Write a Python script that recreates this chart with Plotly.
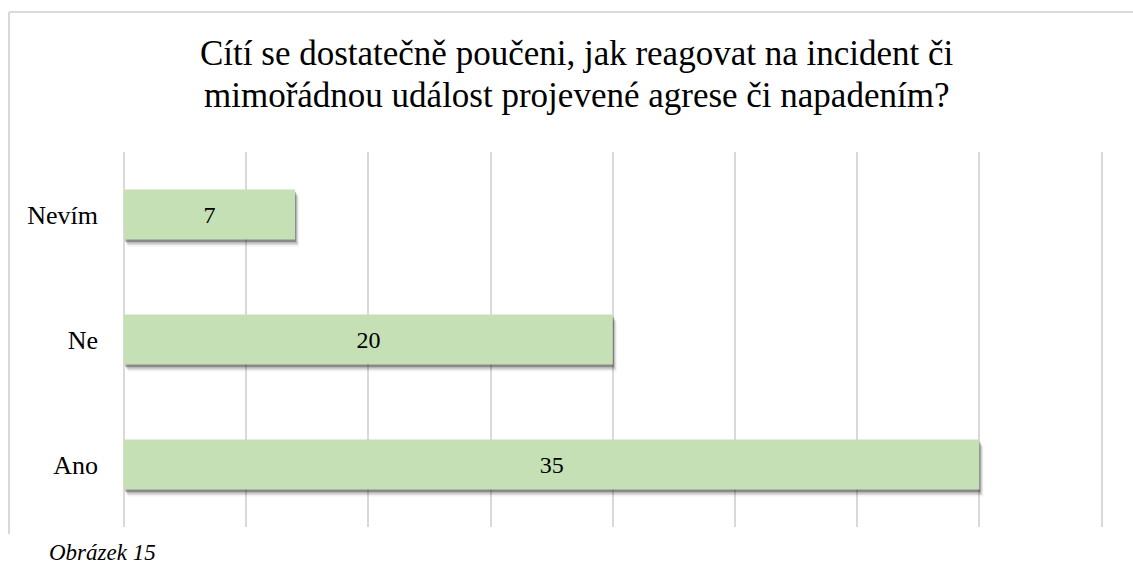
import plotly.graph_objects as go

categories = ["Ano", "Ne", "Nevím"]
values = [35, 20, 7]
title_lines = ["Cítí se dostatečně poučeni, jak reagovat na incident či",
               "mimořádnou událost projevené agrese či napadením?"]
caption = "Obrázek 15"

W, H = 1133, 587
L, R, T, B = 124, 29, 152, 60
pw, ph = W - L - R, H - T - B
XMAX = 40.1

def px_x(p):
    return (p - L) / pw

def px_y(p):
    return (H - B - p) / ph

FONT = "Liberation Serif"
BAR_W = 0.4
cat_px = ph / len(categories)
unit_px = pw / XMAX

fig = go.Figure()

# soft drop shadow layers (pixel offsets converted to axis units)
for dy, dx, alpha in [(7, 4, 0.05), (5.5, 3, 0.09), (4, 2, 0.16), (2.5, 1, 0.25)]:
    fig.add_trace(go.Bar(
        y=categories, x=values, orientation="h",
        base=dx / unit_px, width=BAR_W, offset=-BAR_W / 2 - dy / cat_px,
        marker=dict(color=f"rgba(0,0,0,{alpha})", line=dict(width=0)),
        hoverinfo="skip", showlegend=False,
    ))

fig.add_trace(go.Bar(
    y=categories, x=values, orientation="h",
    width=BAR_W, offset=-BAR_W / 2,
    marker=dict(color="#C5E0B4", line=dict(width=0)),
    text=[str(v) for v in values], textposition="inside",
    insidetextanchor="middle",
    textfont=dict(family=FONT, size=24, color="#000000"),
    showlegend=False,
))

annotations = []
for line, base in zip(title_lines, [64, 106]):
    annotations.append(dict(
        text=line, xref="paper", yref="paper",
        x=px_x(576), y=px_y(base - 11), xanchor="center", yanchor="middle",
        showarrow=False,
        font=dict(family=FONT, size=35, color="#000000"),
    ))
annotations.append(dict(
    text="<i>" + caption + "</i>", xref="paper", yref="paper",
    x=px_x(47), y=px_y(552), xanchor="left", yanchor="middle",
    showarrow=False,
    font=dict(family=FONT, size=23, color="#000000"),
))

fig.update_layout(
    width=W, height=H,
    margin=dict(l=L, r=R, t=T, b=B, autoexpand=False),
    paper_bgcolor="white", plot_bgcolor="white",
    barmode="overlay",
    xaxis=dict(
        range=[0, XMAX], tickvals=[0, 5, 10, 15, 20, 25, 30, 35, 40],
        showticklabels=False,
        showgrid=True, gridcolor="#D9D9D9", gridwidth=1.5,
        zeroline=True, zerolinecolor="#D9D9D9", zerolinewidth=1.5,
        showline=False, fixedrange=True,
    ),
    yaxis=dict(
        categoryorder="array", categoryarray=categories,
        range=[-0.5, 2.5], showgrid=False, zeroline=False, showline=False,
        ticks="", ticklabelstandoff=25,
        tickfont=dict(family=FONT, size=26, color="#000000"),
        fixedrange=True,
    ),
    shapes=[
        dict(type="line", xref="paper", yref="paper",
             x0=px_x(9), x1=px_x(W + 5), y0=px_y(12), y1=px_y(12),
             line=dict(color="#D9D9D9", width=2)),
        dict(type="line", xref="paper", yref="paper",
             x0=px_x(9), x1=px_x(9), y0=px_y(12), y1=px_y(534),
             line=dict(color="#D9D9D9", width=2)),
    ],
    annotations=annotations,
)

fig.write_html(
    "out.html",
    config={"displayModeBar": False},
    post_script="document.body.style.margin='0';document.body.style.overflow='hidden';",
)
